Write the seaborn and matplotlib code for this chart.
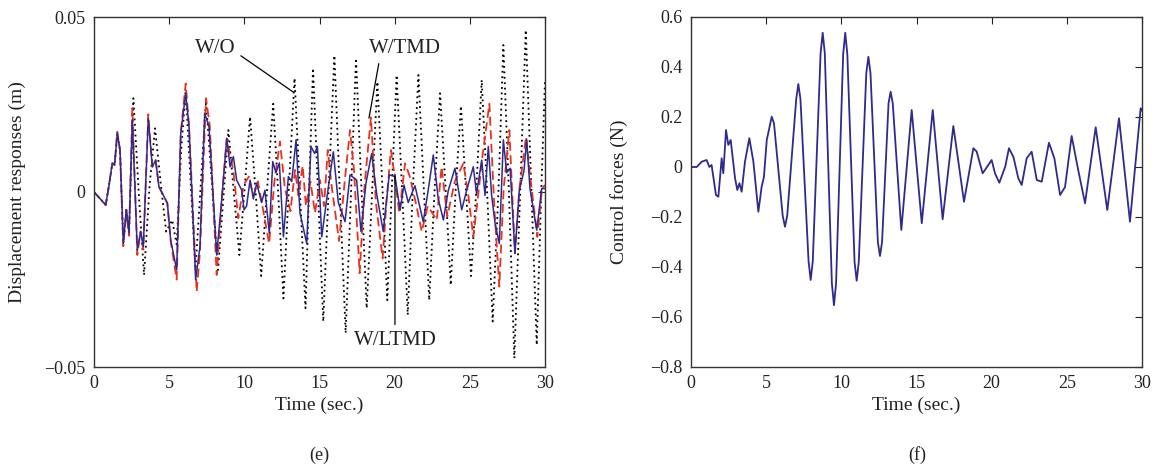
import numpy as np
import pandas as pd
import matplotlib
matplotlib.use("Agg")
import matplotlib.pyplot as plt
import seaborn as sns

# ---------------- data ----------------
# Panel (e): displacement responses (m)
t_wo = [0, 0.78, 1.0, 1.22, 1.37, 1.55, 1.73, 1.95, 2.15, 2.33, 2.62, 3.0, 3.33, 3.7, 4.06, 4.45,
        4.8, 5.2, 5.5, 5.8, 6.1, 6.4, 6.75, 7.1, 7.45, 7.85, 8.25, 8.6, 8.94, 9.3, 9.67, 10.0,
        10.38, 10.75, 11.12, 11.5, 11.92, 12.25, 12.6, 12.95, 13.34, 13.7, 14.07, 14.3, 14.57,
        14.9, 15.25, 15.6, 15.99, 16.35, 16.74, 17.1, 17.43, 17.8, 18.14, 18.5, 18.85, 19.2,
        19.51, 19.8, 20.13, 20.5, 20.87, 21.2, 21.58, 21.95, 22.3, 22.65, 23.02, 23.4, 23.73,
        24.05, 24.41, 24.75, 25.08, 25.42, 25.79, 26.15, 26.52, 26.9, 27.23, 27.6, 27.96,
        28.35, 28.72, 29.1, 29.45, 29.75, 30.0]
wo = [0, -0.0037, 0.002, 0.0082, 0.0077, 0.0168, 0.012, -0.0147, -0.0051, -0.0117, 0.0268,
      -0.002, -0.0237, 0.002, 0.0182, 0.002, -0.0113, -0.008, -0.015, 0.012, 0.029, 0.005,
      -0.022, 0.002, 0.026, 0.002, -0.0223, -0.002, 0.0177, 0.0, -0.018, 0.0, 0.0215, 0.0,
      -0.0240, 0.0, 0.0252, 0.0, -0.0304, 0.0, 0.0325, 0.0, -0.0332, 0.0, 0.0354, 0.0,
      -0.0370, 0.0, 0.0390, 0.0, -0.0403, 0.0, 0.0382, 0.0, -0.0332, 0.0, 0.0315, 0.0,
      -0.0309, 0.0, 0.0334, 0.0, -0.0351, 0.0, 0.0334, 0.0, -0.0309, 0.0, 0.0282, 0.0,
      -0.0266, 0.0, 0.0246, 0.0, -0.0240, 0.0, 0.0320, 0.0, -0.0370, 0.0, 0.0420, 0.0,
      -0.0475, 0.0, 0.0463, 0.0, -0.0437, 0.0, 0.032]

t_tmd = [0, 0.78, 1.0, 1.22, 1.37, 1.55, 1.73, 1.95, 2.15, 2.33, 2.55, 2.88, 3.1, 3.28, 3.61,
         3.88, 4.1, 4.32, 4.55, 4.88, 5.1, 5.5, 5.77, 6.1, 6.32, 6.83, 7.05, 7.45, 7.7, 8.16,
         8.5, 8.83, 9.27, 9.6, 9.95, 10.3, 10.6, 10.9, 11.2, 11.65, 12.0, 12.37, 12.7, 13.07,
         13.37, 13.6, 13.88, 14.1, 14.4, 14.7, 15.03, 15.3, 15.55, 15.8, 16.3, 16.7, 17.03,
         17.3, 17.67, 18.0, 18.42, 18.75, 19.2, 19.45, 19.75, 20.0, 20.31, 20.69, 21.0, 21.4,
         21.8, 22.2, 22.8, 23.12, 23.5, 24.0, 24.57, 24.9, 25.23, 25.55, 25.86, 26.3, 26.65,
         26.96, 27.25, 27.63, 28.0, 28.3, 28.74, 29.0, 29.49, 29.8, 30.0]
tmd = [0, -0.0037, 0.002, 0.0082, 0.0077, 0.0172, 0.012, -0.0155, -0.0051, -0.0125, 0.0240,
       -0.0180, -0.0113, -0.0165, 0.0222, 0.0072, 0.0091, 0.0015, -0.0004, -0.0032, -0.0140,
       -0.0250, 0.0168, 0.0310, 0.0190, -0.0285, -0.0170, 0.0268, 0.0190, -0.0237, -0.002,
       0.0153, 0.0060, -0.0075, 0.0020, 0.0044, -0.0010, 0.0030, -0.0040, -0.0147, 0.0030,
       0.0144, 0.0010, -0.0055, 0.0063, -0.0010, 0.0075, -0.0040, 0.0030, -0.0060, 0.0034,
       -0.0040, 0.0120, 0.0020, -0.0140, 0.0040, 0.0177, 0.0060, -0.0232, 0.0020, 0.0213,
       -0.0030, -0.0190, -0.0030, 0.0120, 0.0045, -0.0061, 0.0082, 0.0045, -0.0030,
       -0.0113, -0.0040, -0.0080, 0.0072, -0.0070, 0.0030, 0.0082, -0.0010, -0.0128,
       -0.0010, 0.0110, 0.0252, -0.0060, -0.0270, 0.0010, 0.0177, -0.0175, 0.0010, 0.0158,
       0.0050, -0.0128, 0.0010, 0.0020]

t_ltmd = [0, 0.78, 1.0, 1.22, 1.37, 1.55, 1.73, 1.95, 2.15, 2.33, 2.55, 2.88, 3.1, 3.28, 3.61,
          3.88, 4.1, 4.32, 4.55, 4.88, 5.1, 5.5, 5.77, 6.1, 6.32, 6.76, 7.05, 7.36, 7.65, 8.16,
          8.5, 8.83, 9.05, 9.27, 9.49, 9.82, 9.98, 10.15, 10.38, 10.6, 10.82, 11.15, 11.37,
          11.66, 11.89, 12.1, 12.33, 12.6, 12.93, 13.15, 13.44, 13.7, 14.15, 14.43, 14.68,
          14.86, 15.15, 15.48, 15.92, 16.25, 16.7, 17.03, 17.47, 17.76, 18.09, 18.47, 18.8,
          19.24, 19.64, 20.02, 20.36, 20.62, 20.9, 21.35, 21.9, 22.23, 22.57, 22.9, 23.24,
          23.57, 24.01, 24.46, 24.79, 25.23, 25.45, 25.79, 26.01, 26.23, 26.45, 26.68, 26.96,
          27.23, 27.45, 27.68, 28.0, 28.29, 28.6, 28.78, 29.0, 29.45, 29.78, 30.0]
ltmd = [0, -0.0037, 0.002, 0.0082, 0.0077, 0.0168, 0.012, -0.0147, -0.0051, -0.0117, 0.0206,
        -0.0166, -0.0113, -0.0156, 0.0210, 0.0072, 0.0091, 0.0015, -0.0004, -0.0032, -0.0137,
        -0.0223, 0.0168, 0.0282, 0.0187, -0.0251, -0.0156, 0.0225, 0.0187, -0.0180, -0.002,
        0.0153, 0.0072, 0.0101, 0.0034, 0.0006, -0.0051, -0.0040, 0.0034, -0.0020, 0.0025,
        -0.0030, 0.0005, -0.0118, 0.0087, 0.0055, 0.0083, -0.0128, 0.0044, 0.0030, 0.0149,
        -0.0060, -0.0147, 0.0130, 0.0110, 0.0130, -0.0128, -0.0020, 0.0115, -0.0030, -0.0085,
        0.0049, 0.0034, -0.0113, 0.0025, 0.0110, -0.0005, -0.0113, 0.0049, 0.0044, -0.0051,
        0.0020, -0.0030, 0.0018, -0.0085, 0.0005, 0.0106, -0.0020, -0.0080, 0.0005, 0.0068,
        -0.0051, 0.0005, 0.0072, -0.0005, 0.0091, -0.0010, 0.0130, -0.0010, -0.0090, -0.0147,
        0.0149, 0.0055, 0.0068, -0.0175, 0.0005, 0.0060, 0.0149, 0.0010, -0.0109, 0.0010,
        0.0010]

# Panel (f): control forces (N)
t_force = [0, 0.38, 0.71, 1.04, 1.22, 1.37, 1.66, 1.82, 2.04, 2.15, 2.33, 2.48, 2.64, 2.93,
           3.08, 3.22, 3.37, 3.59, 3.88, 4.15, 4.48, 4.7, 4.85, 5.04, 5.37, 5.52, 6.1, 6.25,
           6.4, 7.0, 7.14, 7.28, 7.82, 7.96, 8.1, 8.62, 8.76, 8.9, 9.37, 9.51, 9.65, 10.12,
           10.26, 10.4, 10.88, 11.02, 11.16, 11.66, 11.8, 11.94, 12.43, 12.57, 12.71, 13.14,
           13.28, 13.42, 13.99, 14.68, 15.35, 16.08, 16.74, 17.45, 18.16, 18.78, 19.0, 19.4,
           19.7, 20.0, 20.22, 20.51, 20.9, 21.15, 21.45, 21.77, 22.0, 22.33, 22.66, 23.0, 23.33,
           23.81, 24.17, 24.55, 24.88, 25.32, 25.75, 26.21, 26.92, 27.69, 28.47, 29.2, 29.91,
           30.0]
force = [0, 0, 0.021, 0.028, 0.0, 0.008, -0.112, -0.119, 0.035, -0.025, 0.148, 0.088, 0.108,
         -0.045, -0.092, -0.065, -0.099, 0.021, 0.115, 0.021, -0.179, -0.079, -0.040, 0.108,
         0.201, 0.175, -0.195, -0.239, -0.195, 0.272, 0.332, 0.272, -0.377, -0.452, -0.377,
         0.455, 0.537, 0.455, -0.465, -0.553, -0.465, 0.450, 0.537, 0.450, -0.380, -0.455,
         -0.380, 0.375, 0.441, 0.375, -0.300, -0.356, -0.300, 0.255, 0.301, 0.255, -0.252,
         0.228, -0.225, 0.228, -0.209, 0.164, -0.139, 0.075, 0.062, -0.025, 0.001, 0.028,
         -0.025, -0.063, 0.001, 0.075, 0.040, -0.045, -0.072, 0.035, 0.061, -0.052, -0.059,
         0.097, 0.035, -0.112, -0.080, 0.124, -0.010, -0.145, 0.159, -0.172, 0.195, -0.219,
         0.235, 0.225]

e_yticks = [-0.05, 0, 0.05]
e_yticklabels = ["\u22120.05", "0", "0.05"]
f_yticks = [-0.8, -0.6, -0.4, -0.2, 0, 0.2, 0.4, 0.6]
f_yticklabels = ["\u22120.8", "\u22120.6", "\u22120.4", "\u22120.2", "0", "0.2", "0.4", "0.6"]
xticks = [0, 5, 10, 15, 20, 25, 30]

# ---------------- styling ----------------
sns.set_theme(style="white")
plt.rcParams["font.family"] = ["Liberation Serif", "DejaVu Serif"]
plt.rcParams["axes.linewidth"] = 1.0
plt.rcParams["xtick.direction"] = "in"
plt.rcParams["ytick.direction"] = "in"

FS = 13
blue = "#2e2a8e"
red = "#e8321e"

fig = plt.figure(figsize=(11.55, 4.70), dpi=100)
ax1 = fig.add_axes([94 / 1155, 1 - 367 / 470, (545 - 94) / 1155, 350 / 470])
ax2 = fig.add_axes([691 / 1155, 1 - 367 / 470, (1142 - 691) / 1155, 350 / 470])

df_wo = pd.DataFrame({"t": t_wo, "v": wo})
df_tmd = pd.DataFrame({"t": t_tmd, "v": tmd})
df_ltmd = pd.DataFrame({"t": t_ltmd, "v": ltmd})
df_f = pd.DataFrame({"t": t_force, "v": force})

sns.lineplot(data=df_wo, x="t", y="v", ax=ax1, color="black", linewidth=1.3,
             linestyle=(0, (1, 2)), estimator=None, sort=False)
sns.lineplot(data=df_tmd, x="t", y="v", ax=ax1, color=red, linewidth=1.3,
             linestyle=(0, (5, 2.5)), estimator=None, sort=False)
sns.lineplot(data=df_ltmd, x="t", y="v", ax=ax1, color=blue, linewidth=1.1,
             estimator=None, sort=False)
sns.lineplot(data=df_f, x="t", y="v", ax=ax2, color=blue, linewidth=1.3,
             estimator=None, sort=False)

for ax in (ax1, ax2):
    ax.set_xlim(0, 30)
    ax.set_xticks(xticks)
    ax.set_xticklabels([str(x) for x in xticks])
    ax.tick_params(axis="both", which="both", direction="in", top=True, right=True,
                   length=5, width=0.8, labelsize=FS, colors="#222222", pad=6)
    for s in ax.spines.values():
        s.set_color("#333333")
        s.set_linewidth(1.0)
    ax.set_xlabel("Time (sec.)", fontsize=FS + 1, color="#222222", labelpad=3)
    ax.grid(False)

ax1.set_ylim(-0.05, 0.05)
ax1.set_yticks(e_yticks)
ax1.set_yticklabels(e_yticklabels)
ax1.set_ylabel("Displacement responses (m)", fontsize=FS + 1, color="#222222", labelpad=13)

ax2.set_ylim(-0.8, 0.6)
ax2.set_yticks(f_yticks)
ax2.set_yticklabels(f_yticklabels)
ax2.set_ylabel("Control forces (N)", fontsize=FS + 1, color="#222222", labelpad=16)

# annotations
akw = dict(fontsize=FS + 2, color="#222222", ha="center", va="center")
ax1.annotate("W/O", xy=(13.24, 0.0286), xytext=(8.05, 0.0411),
             arrowprops=dict(arrowstyle="-", color="black", lw=0.9, shrinkA=2, shrinkB=0,
                             relpos=(1.0, 0.3)), **akw)
ax1.annotate("W/TMD", xy=(18.29, 0.0211), xytext=(20.69, 0.0411),
             arrowprops=dict(arrowstyle="-", color="black", lw=0.9, shrinkA=2, shrinkB=0,
                             relpos=(0.15, 0.0)), **akw)
ax1.annotate("W/LTMD", xy=(20.02, 0.0051), xytext=(20.02, -0.0423),
             arrowprops=dict(arrowstyle="-", color="black", lw=0.9, shrinkA=2, shrinkB=0,
                             relpos=(0.5, 1.0)), **akw)

fig.text(319 / 1155, 1 - 455 / 470, "(e)", fontsize=FS, color="#222222", ha="center", va="center")
fig.text(917 / 1155, 1 - 455 / 470, "(f)", fontsize=FS, color="#222222", ha="center", va="center")

fig.savefig("out.png", dpi=100, facecolor="white")
